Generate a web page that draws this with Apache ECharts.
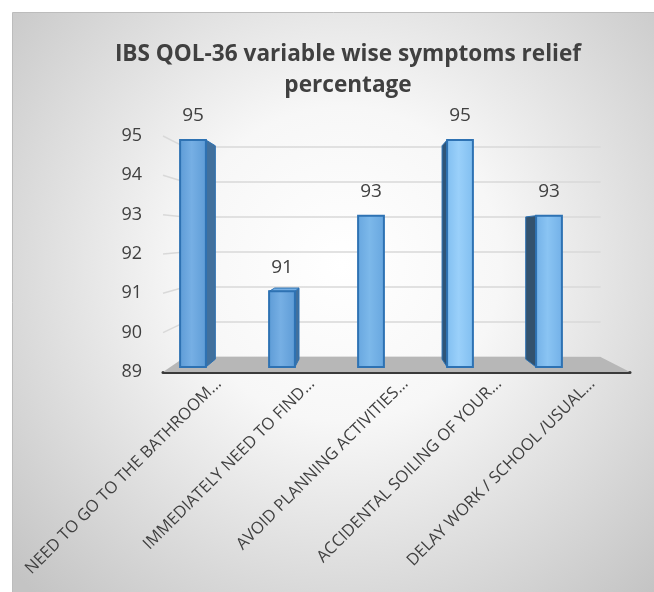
<!DOCTYPE html>
<html>
<head>
<meta charset="utf-8">
<script src="https://cdn.jsdelivr.net/npm/echarts@6/dist/echarts.min.js"></script>
<style>
  html, body { margin: 0; padding: 0; background: #ffffff; }
  #chart { width: 654px; height: 592px; }
</style>
</head>
<body>
<div id="chart"></div>
<script>
// IBS QOL-36: relief percentage per questionnaire item
const categories = [
  'NEED TO GO TO THE BATHROOM...',
  'IMMEDIATELY NEED TO FIND...',
  'AVOID PLANNING ACTIVITIES...',
  'ACCIDENTAL SOILING OF YOUR...',
  'DELAY WORK / SCHOOL /USUAL...'
];
const reliefPct = [95, 91, 93, 95, 93];
const valueMin = 89;
const valueMax = 95;
const valueStep = 1;

// Pseudo-3D scene: everything recedes toward one vanishing point
const VP = [363, 236.5];
const WALL_DEPTH = 0.11;   // front plane -> back wall
const BAR_DEPTH = 0.06;    // bar front face -> bar back face
const FRONT = { left: 163, right: 24, top: 136, bottom: 220 };
const LABEL_SHIFT = 9;     // category labels sit slightly right of the front edge ticks
const FONT = '"Open Sans", "Liberation Sans", sans-serif';
const TEXT = '#404040';

const FACE = [
  ['#5d9bd6', '#76afe4'],
  ['#5d9bd6', '#76afe4'],
  ['#67a6df', '#7cb8ea'],
  ['#80bef0', '#9ad0fa'],
  ['#72b0e7', '#8ac4f3']
];
const SIDE = ['#41709d', '#41709d', '#3b6792', '#2f5578', '#33526e'];

function toward(p, t) {
  return [p[0] + (VP[0] - p[0]) * t, p[1] + (VP[1] - p[1]) * t];
}

const W = 654, H = 592;
const frontL = FRONT.left, frontR = W - FRONT.right;
const frontT = FRONT.top, frontB = H - FRONT.bottom;
const backTL = toward([frontL, frontT], WALL_DEPTH);
const backBR = toward([frontR, frontB], WALL_DEPTH);

const wallTicks = [];
for (let v = valueMin + valueStep; v <= valueMax; v += valueStep) wallTicks.push(v);

const chart = echarts.init(document.getElementById('chart'), null, { renderer: 'canvas' });

chart.setOption({
  animation: false,
  backgroundColor: '#ffffff',
  graphic: [{
    type: 'rect',
    z: -10,
    silent: true,
    shape: { x: 12.5, y: 12.5, width: 660, height: 600 },
    style: {
      fill: new echarts.graphic.RadialGradient(0.5, 0.42, 0.75, [
        { offset: 0, color: '#ffffff' },
        { offset: 0.35, color: '#f7f7f7' },
        { offset: 1, color: '#c4c4c4' }
      ]),
      stroke: '#bcbcbc',
      lineWidth: 1
    }
  }],
  title: {
    text: 'IBS QOL-36 variable wise symptoms relief\npercentage',
    left: 343,
    textAlign: 'center',
    top: 34,
    textStyle: {
      fontFamily: FONT, fontSize: 22.6, fontWeight: 'bold', color: TEXT, lineHeight: 31
    }
  },
  grid: [
    // front plane: value labels and floor edge
    { left: FRONT.left, right: FRONT.right, top: FRONT.top, bottom: FRONT.bottom },
    // back wall with gridlines
    { left: backTL[0], right: W - backBR[0], top: backTL[1], bottom: H - backBR[1] },
    // bars
    { left: 148.5, width: 445, top: 140, bottom: 225 },
    // category labels
    { left: FRONT.left + LABEL_SHIFT, right: FRONT.right - LABEL_SHIFT, top: FRONT.top, bottom: FRONT.bottom }
  ],
  xAxis: [
    {
      gridIndex: 0, type: 'category', data: categories,
      axisLine: { lineStyle: { color: '#3a3a3a', width: 3 } },
      axisTick: { show: false },
      axisLabel: { show: false }
    },
    { gridIndex: 1, type: 'category', data: categories, show: false },
    { gridIndex: 2, type: 'category', data: categories, show: false },
    {
      gridIndex: 3, type: 'category', data: categories,
      axisLine: { show: false }, axisTick: { show: false },
      axisLabel: {
        interval: 0, rotate: 45, margin: 9,
        fontFamily: FONT, fontSize: 16.5, color: TEXT
      }
    }
  ],
  yAxis: [
    {
      gridIndex: 0, type: 'value', min: valueMin, max: valueMax, interval: valueStep,
      axisLine: { show: false }, axisTick: { show: false }, splitLine: { show: false },
      axisLabel: { margin: 21, fontFamily: FONT, fontSize: 18, color: TEXT }
    },
    {
      gridIndex: 1, type: 'value', min: valueMin, max: valueMax, interval: valueStep,
      axisLine: { show: false }, axisTick: { show: false }, axisLabel: { show: false },
      splitLine: { lineStyle: { color: '#d9d9d9', width: 1.5 } }
    },
    {
      gridIndex: 2, type: 'value', min: valueMin, max: valueMax, interval: valueStep, show: false
    },
    {
      gridIndex: 3, type: 'value', min: valueMin, max: valueMax, interval: valueStep, show: false
    }
  ],
  series: [
    {
      // floor slab and left-wall gridlines
      type: 'custom',
      xAxisIndex: 0, yAxisIndex: 0,
      silent: true,
      z: 1,
      data: [[0, valueMin]],
      renderItem: function (params, api) {
        const cs = params.coordSys;
        const yFloor = api.coord([0, valueMin])[1];
        const fl = [cs.x, yFloor], fr = [cs.x + cs.width, yFloor];
        const children = [{
          type: 'polygon',
          shape: { points: [fl, fr, toward(fr, WALL_DEPTH), toward(fl, WALL_DEPTH)] },
          style: { fill: '#b7b7b7' }
        }];
        wallTicks.forEach(function (v) {
          const f = [cs.x, api.coord([0, v])[1]];
          const b = toward(f, WALL_DEPTH);
          children.push({
            type: 'line',
            shape: { x1: f[0], y1: f[1], x2: b[0], y2: b[1] },
            style: { stroke: '#d9d9d9', lineWidth: 1.5 }
          });
        });
        return { type: 'group', children: children };
      }
    },
    {
      type: 'custom',
      xAxisIndex: 2, yAxisIndex: 2,
      z: 5,
      data: reliefPct.map(function (v, i) { return [i, v]; }),
      renderItem: function (params, api) {
        const i = api.value(0), v = api.value(1);
        const top = api.coord([i, v]);
        const base = api.coord([i, valueMin]);
        const w = api.size([1, 0])[0] * 0.29;
        const xl = top[0] - w / 2, xr = top[0] + w / 2;
        const ftl = [xl, top[1]], ftr = [xr, top[1]];
        const fbl = [xl, base[1]], fbr = [xr, base[1]];
        const btl = toward(ftl, BAR_DEPTH), btr = toward(ftr, BAR_DEPTH);
        const bbl = toward(fbl, BAR_DEPTH), bbr = toward(fbr, BAR_DEPTH);
        const edge = '#2e72b3';
        const children = [];
        if (btr[0] > xr) {
          children.push({ type: 'polygon', shape: { points: [ftr, btr, bbr, fbr] },
            style: { fill: SIDE[i], stroke: edge, lineWidth: 1 } });
        }
        if (btl[0] < xl) {
          children.push({ type: 'polygon', shape: { points: [btl, ftl, fbl, bbl] },
            style: { fill: SIDE[i], stroke: edge, lineWidth: 1 } });
        }
        if (btl[1] < ftl[1]) {
          children.push({ type: 'polygon', shape: { points: [ftl, ftr, btr, btl] },
            style: { fill: FACE[i][1], stroke: edge, lineWidth: 1 } });
        }
        children.push({
          type: 'rect',
          shape: { x: xl, y: top[1], width: w, height: base[1] - top[1] },
          style: {
            fill: new echarts.graphic.LinearGradient(0, 0, 1, 0, [
              { offset: 0, color: FACE[i][0] },
              { offset: 0.45, color: FACE[i][1] },
              { offset: 1, color: FACE[i][0] }
            ]),
            stroke: edge, lineWidth: 2
          }
        });
        children.push({
          type: 'text',
          style: {
            x: top[0], y: top[1] - 24, text: String(v),
            align: 'center', verticalAlign: 'middle',
            font: '19px ' + FONT, fill: TEXT
          }
        });
        return { type: 'group', children: children };
      }
    }
  ]
});
</script>
</body>
</html>
